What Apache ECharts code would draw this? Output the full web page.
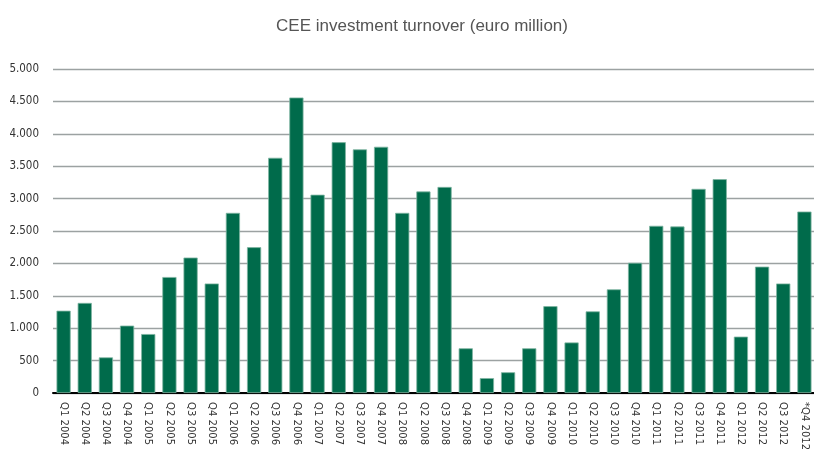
<!DOCTYPE html>
<html>
<head>
<meta charset="utf-8">
<script src="https://cdn.jsdelivr.net/npm/echarts@6/dist/echarts.min.js"></script>
<style>html,body{margin:0;padding:0;background:#fff}#c{width:814px;height:449px}</style>
</head>
<body>
<div id="c"></div>
<script>
const categories = ["Q1 2004","Q2 2004","Q3 2004","Q4 2004","Q1 2005","Q2 2005","Q3 2005","Q4 2005","Q1 2006","Q2 2006","Q3 2006","Q4 2006","Q1 2007","Q2 2007","Q3 2007","Q4 2007","Q1 2008","Q2 2008","Q3 2008","Q4 2008","Q1 2009","Q2 2009","Q3 2009","Q4 2009","Q1 2010","Q2 2010","Q3 2010","Q4 2010","Q1 2011","Q2 2011","Q3 2011","Q4 2011","Q1 2012","Q2 2012","Q3 2012","*Q4 2012"];
const turnover = [1270,1390,550,1040,910,1790,2090,1690,2780,2250,3630,4560,3060,3870,3760,3800,2780,3110,3180,690,230,320,690,1340,780,1260,1600,2010,2580,2570,3150,3300,870,1950,1690,2800];
const yTicks = {min:0, max:5000, interval:500};

const chart = echarts.init(document.getElementById('c'));
chart.setOption({
  animation:false,
  title:{text:'CEE investment turnover (euro million)', left:417, top:13, textAlign:'center',
    textStyle:{fontFamily:'Liberation Sans, Arial', fontSize:17, fontWeight:'normal', color:'#555'}},
  grid:{left:53, width:762, top:69, bottom:56, containLabel:false, outerBoundsMode:'none'},
  xAxis:{type:'category', data:categories,
    axisLine:{lineStyle:{color:'#000', width:2}},
    axisTick:{show:false},
    axisLabel:{rotate:-90, interval:0, margin:9, fontFamily:'Liberation Sans Narrow, DejaVu Sans Condensed, Arial Narrow, sans-serif', fontSize:11.2, color:'#333'}},
  yAxis:{type:'value', min:yTicks.min, max:yTicks.max, interval:yTicks.interval,
    axisLine:{show:false}, axisTick:{show:false},
    splitLine:{lineStyle:{color:'#9ca2a2', width:1.3}},
    axisLabel:{margin:14, fontFamily:'Liberation Sans Narrow, DejaVu Sans Condensed, Arial Narrow, sans-serif', fontSize:11.5, color:'#333',
      formatter:v=>v>=1000?(Math.floor(v/1000)+'.'+String(v%1000).padStart(3,'0')):String(v)}},
  series:[{type:'bar', data:turnover, barCategoryGap:'33%',
    itemStyle:{color:'#006b4b', borderColor:'#7fb5a2', borderWidth:0.8}}]
});
</script>
</body>
</html>
